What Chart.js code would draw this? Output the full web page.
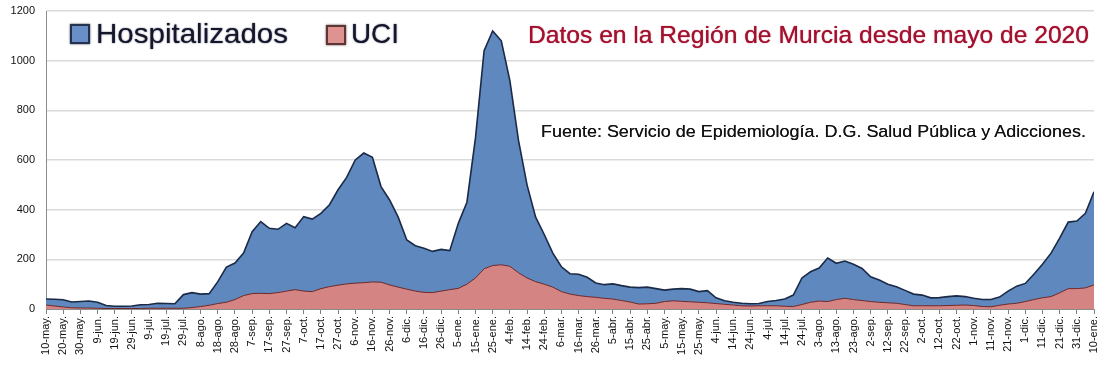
<!DOCTYPE html>
<html>
<head>
<meta charset="utf-8">
<script src="https://cdn.jsdelivr.net/npm/chart.js@4"></script>
<style>
  html, body { margin: 0; padding: 0; background: #ffffff; }
  #wrap { position: relative; width: 1100px; height: 368px; overflow: hidden; }
  canvas { position: absolute; left: 0; top: 0; }
  .ov { position: absolute; white-space: nowrap; transform-origin: 0 0; line-height: 1; }
  .box { position: absolute; box-sizing: border-box; }
</style>
</head>
<body>
<div id="wrap">
  <canvas id="c" width="1100" height="368"></canvas>
  <div class="box" style="left:70px;top:24px;width:20px;height:20px;background:#6a8fc8;border:2px solid #24324e;box-shadow:0 0 2px #445;"></div>
  <div class="ov" id="lg1" style="left:96px;top:18px;font:28px 'Liberation Sans',Arial,sans-serif;color:#15162a;text-shadow:0 0 1.5px rgba(20,25,60,0.8);">Hospitalizados</div>
  <div class="box" style="left:326px;top:25px;width:20px;height:20px;background:#de9391;border:2px solid #5e3434;box-shadow:0 0 2px #544;"></div>
  <div class="ov" id="lg2" style="left:351px;top:18px;font:28px 'Liberation Sans',Arial,sans-serif;color:#15162a;text-shadow:0 0 1.5px rgba(20,25,60,0.8);">UCI</div>
  <div class="ov" id="ttl" style="left:528px;top:21px;font:24px 'Liberation Sans',Arial,sans-serif;color:#a3112f;text-shadow:0 0 1px #a3112f;">Datos en la Región de Murcia desde mayo de 2020</div>
  <div class="ov" id="src" style="left:541px;top:122px;font:17px 'Liberation Sans',Arial,sans-serif;color:#111;text-shadow:0 0 0.5px #333;">Fuente: Servicio de Epidemiología. D.G. Salud Pública y Adicciones.</div>
</div>
<script>
// Day offsets from 10-may-2020
const days = [0,5,10,15,20,25,30,35,40,45,50,55,60,65,70,75,80,85,90,95,
  100,105,110,115,120,125,130,135,140,145,150,155,160,165,170,175,180,185,190,195,
  200,205,210,215,220,225,230,235,240,245,250,255,260,265,270,275,280,285,290,295,
  300,305,310,315,320,325,330,335,340,345,350,355,360,365,370,375,380,385,390,395,
  400,405,410,415,420,425,430,435,440,445,450,455,460,465,470,475,480,485,490,495,
  500,505,510,515,520,525,530,535,540,545,550,555,560,565,570,575,580,585,590,595,
  600,605,610];

const hospitalizados = [40,39,37,28,30,32,27,14,11,11,12,17,18,23,22,21,58,66,60,62,
  110,169,185,225,311,352,325,321,345,327,372,362,385,420,480,530,600,628,611,493,
  439,370,278,255,245,232,240,235,345,430,690,1040,1120,1080,920,680,500,370,300,225,
  170,142,140,128,105,98,101,94,88,86,88,82,76,80,82,80,70,74,45,33,
  27,23,21,22,30,34,40,56,125,150,165,205,184,193,180,163,130,117,100,90,
  75,60,56,45,46,50,53,50,43,38,38,48,72,92,103,140,180,225,285,350,
  354,385,472];

const uci = [16,12,8,5,4,4,3,2,2,2,2,2,3,3,3,3,3,6,10,15,
  22,27,38,54,62,63,62,66,72,78,72,70,82,90,96,101,104,106,109,108,
  97,88,80,72,67,66,72,78,83,100,125,162,175,178,172,146,125,110,100,88,
  70,60,54,50,47,43,40,34,28,20,21,23,30,33,31,29,27,25,22,19,
  16,13,12,13,13,13,11,10,18,27,32,30,38,43,38,34,30,27,25,23,
  18,13,13,13,13,14,15,16,14,10,9,15,20,23,30,38,45,50,65,82,
  82,85,97];

const tickLabels = ["10-may.","20-may.","30-may.","9-jun.","19-jun.","29-jun.","9-jul.","19-jul.","29-jul.","8-ago.",
  "18-ago.","28-ago.","7-sep.","17-sep.","27-sep.","7-oct.","17-oct.","27-oct.","6-nov.","16-nov.",
  "26-nov.","6-dic.","16-dic.","26-dic.","5-ene.","15-ene.","25-ene.","4-feb.","14-feb.","24-feb.",
  "6-mar.","16-mar.","26-mar.","5-abr.","15-abr.","25-abr.","5-may.","15-may.","25-may.","4-jun.",
  "14-jun.","24-jun.","4-jul.","14-jul.","24-jul.","3-ago.","13-ago.","23-ago.","2-sep.","12-sep.",
  "22-sep.","2-oct.","12-oct.","22-oct.","1-nov.","11-nov.","21-nov.","1-dic.","11-dic.","21-dic.",
  "31-dic.","10-ene."];

const yTicks = [0,200,400,600,800,1000,1200];

const toPts = (vals) => vals.map((v, i) => ({x: days[i], y: v}));

new Chart(document.getElementById('c'), {
  type: 'line',
  data: {
    datasets: [
      {
        label: 'Hospitalizados',
        data: toPts(hospitalizados),
        fill: 'origin',
        backgroundColor: '#5f88bf',
        borderColor: '#1b2a47',
        borderWidth: 1.6,
        pointRadius: 0,
        tension: 0,
        order: 2
      },
      {
        label: 'UCI',
        data: toPts(uci),
        fill: 'origin',
        backgroundColor: '#d48583',
        borderColor: '#6e2a2a',
        borderWidth: 1,
        pointRadius: 0,
        tension: 0,
        order: 1
      }
    ]
  },
  options: {
    responsive: false,
    animation: false,
    layout: { padding: { top: 0, right: 4, left: 0, bottom: 0 } },
    plugins: { legend: { display: false }, tooltip: { enabled: false }, title: { display: false } },
    scales: {
      x: {
        type: 'linear',
        min: 0, max: 610,
        afterFit: (s) => { s.height = 59; s.paddingRight = 6; },
        afterBuildTicks: (s) => { s.ticks = tickLabels.map((_, i) => ({ value: i * 10 })); },
        ticks: {
          autoSkip: false,
          maxRotation: 90, minRotation: 90,
          padding: 2,
          color: '#111',
          font: { family: "'Liberation Sans', Arial, sans-serif", size: 11 },
          callback: (v) => tickLabels[Math.round(v / 10)]
        },
        grid: { drawOnChartArea: false, drawTicks: true, tickLength: 5, color: '#7f7f7f' },
        border: { color: '#8c8c8c', width: 1 }
      },
      y: {
        min: 0, max: 1200,
        afterFit: (s) => { s.width = 46; s.paddingTop = 11; },
        afterBuildTicks: (s) => { s.ticks = yTicks.map(v => ({ value: v })); },
        ticks: {
          padding: 11,
          color: '#111',
          font: { family: "'Liberation Sans', Arial, sans-serif", size: 11 },
          callback: (v) => String(v)
        },
        grid: { color: '#dadada', lineWidth: 1.5, drawTicks: false },
        border: { color: '#8c8c8c', width: 1 }
      }
    }
  }
});

// fit overlay texts to their measured widths in the reference
function fit(id, w) {
  const el = document.getElementById(id);
  const cur = el.getBoundingClientRect().width;
  if (cur > 0) el.style.transform = 'scaleX(' + (w / cur) + ')';
}
fit('lg1', 192);
fit('lg2', 48);
fit('ttl', 561);
fit('src', 545);
</script>
</body>
</html>
